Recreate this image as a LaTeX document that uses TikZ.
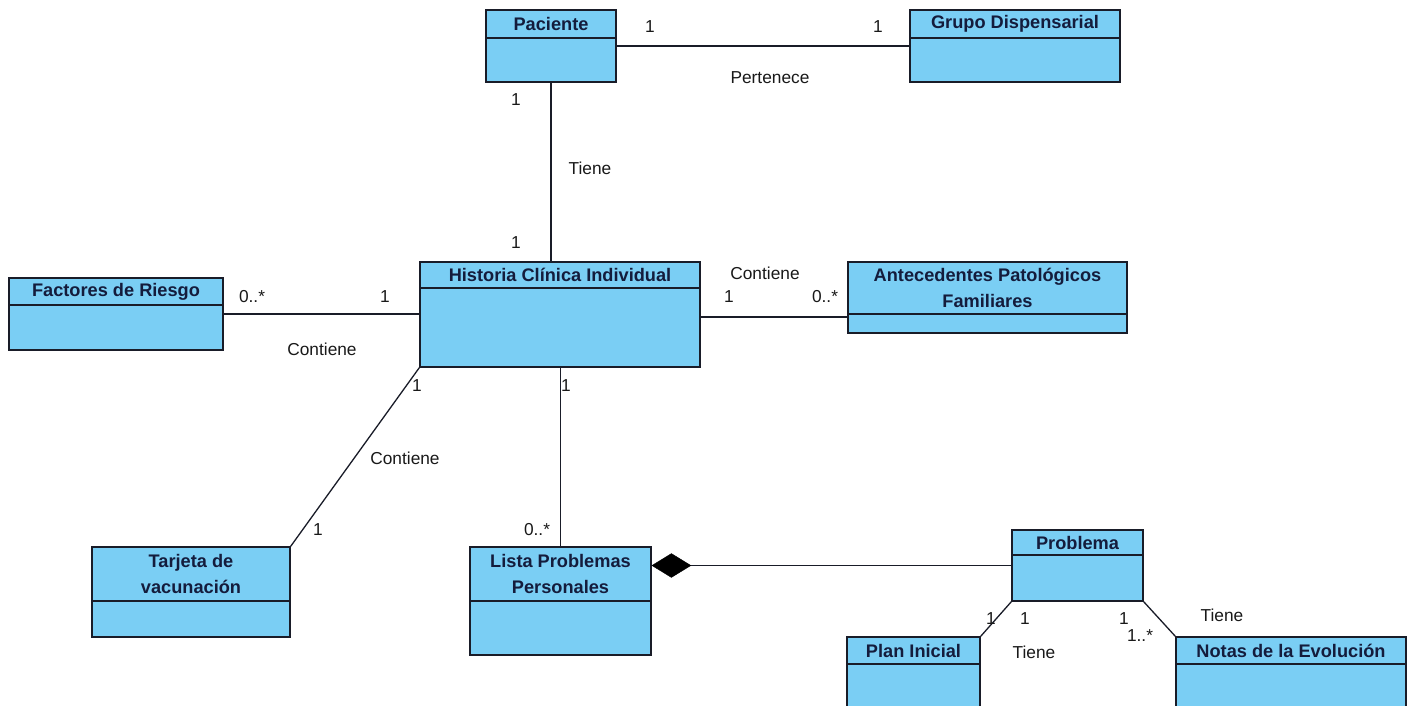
\documentclass[tikz,border=0pt]{standalone}
\usepackage{fontspec}
\setmainfont{Liberation Sans}
\usetikzlibrary{fit,shapes.geometric}
\definecolor{umlfill}{RGB}{122,206,244}
\definecolor{umlline}{RGB}{25,28,40}
\definecolor{umltext}{RGB}{20,28,60}
\newcommand\umlclass[7]{%
  \node[cls, fit={(#2,#3) (#4,#6)}] (#1) {};
  \draw[sep] (#2,#5) -- (#4,#5);
  \node[ttl] at ({(#2+#4)/2},{(#3+#5)/2}) {#7};
}
\begin{document}
\begin{tikzpicture}[x=1pt,y=-1pt,
  cls/.style={draw=umlline, fill=umlfill, line width=1.4pt, inner sep=0pt, rectangle},
  sep/.style={umlline, line width=1.4pt},
  ttl/.style={font=\fontsize{18.2}{25.5}\selectfont\bfseries, text=umltext, align=center, inner sep=0pt},
  lbl/.style={font=\fontsize{17.3}{20}\selectfont, text=black!90, inner sep=0pt},
  conn/.style={umlline, line width=1.3pt}]
\useasboundingbox[fill=white] (0,0) rectangle (1412,706);
\clip (0,0) rectangle (1412,706);

\umlclass{pac}{486}{10}{616}{38}{82}{Paciente}
\umlclass{grp}{910}{10}{1120}{38}{82}{Grupo Dispensarial}
\umlclass{hci}{420}{262}{700}{288}{367}{Historia Clínica Individual}
\umlclass{fr}{9}{278}{223}{305}{350}{Factores de Riesgo}
\umlclass{ant}{848}{262}{1127}{314}{333}{Antecedentes Patológicos\\Familiares}
\umlclass{tv}{92}{547}{290}{601}{637}{Tarjeta de\\vacunación}
\umlclass{lista}{470}{547}{651}{601}{655}{Lista Problemas\\Personales}
\umlclass{prob}{1012}{530}{1143}{555}{601}{Problema}
\umlclass{plan}{847}{637}{980}{664}{712}{Plan Inicial}
\umlclass{notas}{1176}{637}{1406}{664}{712}{Notas de la Evolución}

% connectors
\draw[conn] (pac.east) -- (grp.west);
\draw[conn] (pac.south) -- (pac.south |- hci.north);
\draw[conn] (fr.east) -- (fr.east -| hci.west);
\coordinate (hcR) at (700,317);
\coordinate (antL) at (848,317);
\draw[conn] (hcR) -- (antL);
\draw[conn] (hci.south west) -- (tv.north east);
\draw[conn] (hci.south -| lista.north) -- (lista.north);
\node[diamond, aspect=1.6, fill=black, draw=black, minimum width=39pt, minimum height=24pt, inner sep=0pt, anchor=west] (dia) at (lista.east |- prob.west) {};
\draw[conn] (dia.east) -- (prob.west);
\draw[conn] (prob.south west) -- (plan.north east);
\draw[conn] (prob.south east) -- (notas.north west);

% labels
\node[lbl] at (650,27) {1};
\node[lbl] at (878,27) {1};
\node[lbl] at (770,78) {Pertenece};
\node[lbl] at (516,100) {1};
\node[lbl] at (590,168) {Tiene};
\node[lbl] at (516,243) {1};
\node[lbl] at (252,297) {0..*};
\node[lbl] at (385,297) {1};
\node[lbl] at (322,349) {Contiene};
\node[lbl] at (765,273) {Contiene};
\node[lbl] at (729,297) {1};
\node[lbl] at (825,297) {0..*};
\node[lbl] at (417,386) {1};
\node[lbl] at (566,386) {1};
\node[lbl] at (405,458) {Contiene};
\node[lbl] at (318,530) {1};
\node[lbl] at (537,530) {0..*};
\node[lbl] at (991,619) {1};
\node[lbl] at (1025,619) {1};
\node[lbl] at (1124,619) {1};
\node[lbl] at (1140,636) {1..*};
\node[lbl] at (1222,615) {Tiene};
\node[lbl] at (1034,652) {Tiene};
\end{tikzpicture}
\end{document}
